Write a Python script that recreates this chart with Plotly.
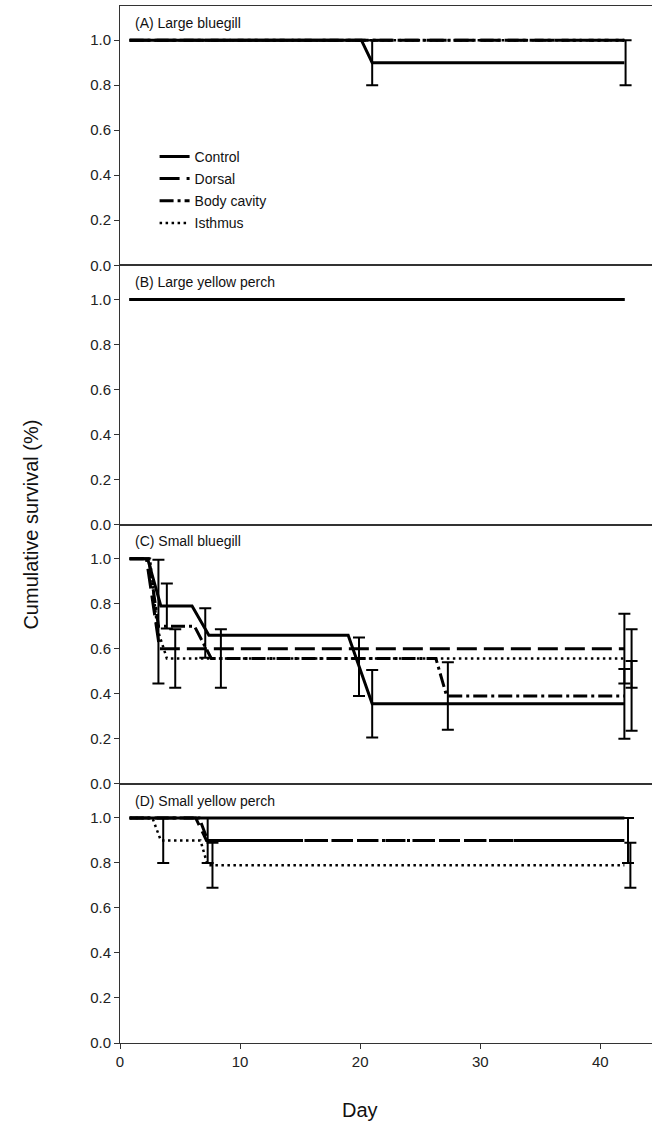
import plotly.graph_objects as go
from plotly.subplots import make_subplots

series_names = ["Control", "Dorsal", "Body cavity", "Isthmus"]
panel_titles = ["(A) Large bluegill", "(B) Large yellow perch", "(C) Small bluegill", "(D) Small yellow perch"]

# Panel A: Large bluegill
a_control_x = [0.8, 20.1, 21.0, 42.0]
a_control_y = [1.0, 1.0, 0.9, 0.9]
a_dorsal_x = [0.8, 42.0]
a_dorsal_y = [1.0, 1.0]
a_body_x = [0.8, 42.0]
a_body_y = [1.0, 1.0]
a_isth_x = [0.8, 42.0]
a_isth_y = [1.0, 1.0]
a_err_x = [21.0, 42.1]
a_err_y = [0.9, 0.9]
a_err_e = [0.1, 0.1]

# Panel B: Large yellow perch
b_control_x = [0.8, 42.0]
b_control_y = [1.0, 1.0]
b_dorsal_x = [0.8, 42.0]
b_dorsal_y = [1.0, 1.0]
b_body_x = [0.8, 42.0]
b_body_y = [1.0, 1.0]
b_isth_x = [0.8, 42.0]
b_isth_y = [1.0, 1.0]
b_err_x = []
b_err_y = []
b_err_e = []

# Panel C: Small bluegill
c_control_x = [0.8, 2.3, 3.4, 6.0, 7.4, 19.0, 21.0, 42.0]
c_control_y = [1.0, 1.0, 0.79, 0.79, 0.66, 0.66, 0.355, 0.355]
c_dorsal_x = [0.8, 2.2, 3.3, 42.0]
c_dorsal_y = [1.0, 1.0, 0.6, 0.6]
c_body_x = [0.8, 2.4, 3.2, 6.2, 7.6, 26.3, 27.2, 42.0]
c_body_y = [1.0, 1.0, 0.7, 0.7, 0.557, 0.557, 0.39, 0.39]
c_isth_x = [0.8, 2.5, 3.1, 3.9, 42.0]
c_isth_y = [1.0, 1.0, 0.69, 0.557, 0.557]
c_err_x = [3.2, 3.9, 4.6, 7.1, 8.4, 19.9, 21.0, 27.3, 42.0, 42.0, 42.6, 42.6]
c_err_y = [0.72, 0.79, 0.557, 0.67, 0.557, 0.52, 0.355, 0.39, 0.6, 0.355, 0.557, 0.39]
c_err_e = [0.275, 0.10, 0.13, 0.11, 0.13, 0.13, 0.15, 0.15, 0.155, 0.155, 0.13, 0.155]

# Panel D: Small yellow perch
d_control_x = [0.8, 42.0]
d_control_y = [1.0, 1.0]
d_dorsal_x = [0.8, 6.3, 7.2, 42.0]
d_dorsal_y = [1.0, 1.0, 0.9, 0.9]
d_body_x = [0.8, 6.6, 7.3, 42.0]
d_body_y = [1.0, 1.0, 0.9, 0.9]
d_isth_x = [0.8, 2.7, 3.4, 6.7, 7.3, 42.0]
d_isth_y = [1.0, 1.0, 0.9, 0.9, 0.79, 0.79]
d_err_x = [3.6, 7.3, 7.7, 42.3, 42.5]
d_err_y = [0.9, 0.9, 0.79, 0.9, 0.79]
d_err_e = [0.1, 0.1, 0.1, 0.1, 0.1]

x_ticks = [0, 10, 20, 30, 40]
y_ticks = [0.0, 0.2, 0.4, 0.6, 0.8, 1.0]

panels = [
    ([(a_control_x, a_control_y), (a_dorsal_x, a_dorsal_y), (a_body_x, a_body_y), (a_isth_x, a_isth_y)],
     (a_err_x, a_err_y, a_err_e)),
    ([(b_control_x, b_control_y), (b_dorsal_x, b_dorsal_y), (b_body_x, b_body_y), (b_isth_x, b_isth_y)],
     (b_err_x, b_err_y, b_err_e)),
    ([(c_control_x, c_control_y), (c_dorsal_x, c_dorsal_y), (c_body_x, c_body_y), (c_isth_x, c_isth_y)],
     (c_err_x, c_err_y, c_err_e)),
    ([(d_control_x, d_control_y), (d_dorsal_x, d_dorsal_y), (d_body_x, d_body_y), (d_isth_x, d_isth_y)],
     (d_err_x, d_err_y, d_err_e)),
]

styles = [
    dict(width=3, dash="solid"),
    dict(width=3, dash="20px,7px"),
    dict(width=3, dash="14px,4px,3px,4px"),
    dict(width=2.5, dash="2.5px,3.5px"),
]

FONT = "Liberation Sans, Arial, Helvetica, sans-serif"

fig = make_subplots(rows=4, cols=1, vertical_spacing=0)

for r, (lines, errs) in enumerate(panels, start=1):
    for i, (xs, ys) in enumerate(lines):
        fig.add_trace(go.Scatter(
            x=xs, y=ys, mode="lines", name=series_names[i],
            legendgroup=series_names[i], showlegend=(r == 1),
            line=dict(color="black", **styles[i]),
        ), row=r, col=1)
    ex, ey, ee = errs
    if ex:
        fig.add_trace(go.Scatter(
            x=ex, y=ey, mode="markers", showlegend=False,
            marker=dict(size=1, color="rgba(0,0,0,0)"),
            error_y=dict(type="data", array=ee, visible=True, color="black", thickness=2, width=6),
        ), row=r, col=1)

for r in range(1, 5):
    fig.update_yaxes(
        range=[0, 1.152], tickvals=y_ticks, tickformat=".1f",
        ticks="outside", ticklen=5, tickwidth=1, tickcolor="#333",
        showline=True, linecolor="#333", linewidth=1, mirror=False,
        showgrid=False, zeroline=False,
        tickfont=dict(family=FONT, size=15, color="#222"),
        row=r, col=1)
    fig.update_xaxes(
        range=[0, 44.3], tickvals=x_ticks,
        showline=True, linecolor="#333", linewidth=1, mirror=True,
        showgrid=False, zeroline=False,
        showticklabels=(r == 4), ticks=("outside" if r == 4 else ""),
        ticklen=5, tickcolor="#333",
        tickfont=dict(family=FONT, size=15, color="#222"),
        row=r, col=1)
    fig.add_annotation(
        text=panel_titles[r - 1], xref=f"x{'' if r == 1 else r} domain", yref=f"y{'' if r == 1 else r} domain",
        x=0.024, y=0.935, xanchor="left", yanchor="middle", showarrow=False,
        font=dict(family=FONT, size=14, color="#111"))

fig.add_annotation(
    text="Cumulative survival (%)", xref="paper", yref="paper", x=-0.169, y=0.5,
    textangle=-90, showarrow=False, xanchor="center", yanchor="middle",
    font=dict(family=FONT, size=20, color="#111"))
fig.add_annotation(
    text="Day", xref="x4", yref="paper", x=20, y=0, yshift=-67,
    showarrow=False, xanchor="center", yanchor="middle",
    font=dict(family=FONT, size=20, color="#111"))

fig.update_layout(
    width=652, height=1126,
    margin=dict(l=120, r=0, t=6, b=83),
    plot_bgcolor="white", paper_bgcolor="white",
    legend=dict(x=0.065, y=0.87, xanchor="left", yanchor="top",
                bgcolor="rgba(0,0,0,0)", tracegroupgap=1,
                font=dict(family=FONT, size=14, color="#111")),
    font=dict(family=FONT),
)

fig.write_html("out.html", config={"displayModeBar": False},
               post_script="document.body.style.margin='0px';document.body.style.overflow='hidden';")
